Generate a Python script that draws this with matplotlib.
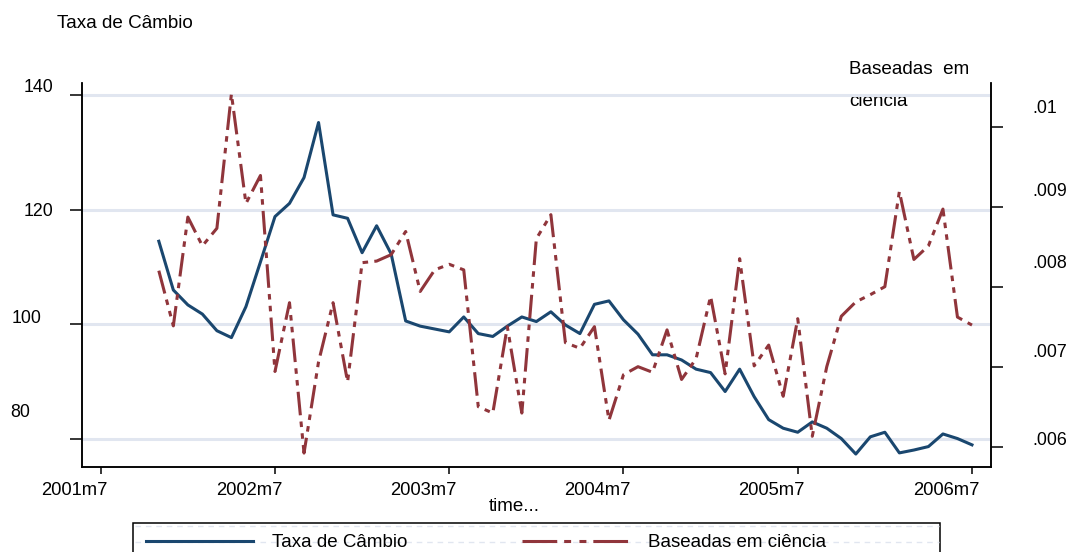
import matplotlib

matplotlib.use("Agg")
import matplotlib.pyplot as plt
import matplotlib.transforms as mtransforms
from matplotlib.lines import Line2D
from matplotlib.patches import Rectangle
import numpy as np
import pandas as pd

plt.rcParams["font.family"] = ["Liberation Sans", "DejaVu Sans"]
plt.rcParams["lines.scale_dashes"] = False

# --- data ---
months = pd.period_range("2001-11", "2006-07", freq="M")
taxa_cambio = [
    114.5, 106.0, 103.4, 101.8, 98.9, 97.7, 103.1, 110.9, 118.8, 121.1,
    125.6, 135.2, 119.1, 118.5, 112.5, 117.2, 112.3, 100.6, 99.7, 99.2,
    98.7, 101.3, 98.4, 97.9, 99.7, 101.3, 100.5, 102.2, 99.9, 98.4,
    103.5, 104.1, 100.8, 98.3, 94.7, 94.7, 93.8, 92.2, 91.6, 88.3,
    92.2, 87.4, 83.4, 81.9, 81.2, 83.0, 81.9, 80.1, 77.4, 80.4,
    81.2, 77.6, 78.1, 78.7, 80.9, 80.1, 79.0,
]
baseadas_ciencia = [
    0.00820, 0.00751, 0.00887, 0.00851, 0.00873, 0.01041, 0.00904, 0.00939, 0.00694, 0.00780,
    0.00592, 0.00706, 0.00780, 0.00681, 0.00830, 0.00832, 0.00840, 0.00869, 0.00794, 0.00821,
    0.00828, 0.00821, 0.00650, 0.00642, 0.00750, 0.00642, 0.00860, 0.00890, 0.00730, 0.00723,
    0.00750, 0.00633, 0.00690, 0.00700, 0.00693, 0.00746, 0.00684, 0.00710, 0.00788, 0.00691,
    0.00835, 0.00701, 0.00727, 0.00663, 0.00760, 0.00613, 0.00700, 0.00763, 0.00781, 0.00790,
    0.00800, 0.00919, 0.00834, 0.00851, 0.00897, 0.00762, 0.00752,
]
x_tick_months = [pd.Period(f"{y}-07", "M") for y in range(2001, 2007)]
left_ticks = [80, 100, 120, 140]
right_ticks = [0.006, 0.007, 0.008, 0.009, 0.01]
right_tick_labels = [".006", ".007", ".008", ".009", ".01"]

# label nudges in pixels (dx, dy downward) -- the original has them off their ticks
left_nudge = [(-23, -29), (-12, -8), (0, 0), (0, -9)]
right_nudge = [(0, -8), (0, -16), (0, -25), (0, -17), (0, -20)]
x_nudge = (-26, 0)

BLUE = "#1a476f"
RED = "#90353b"
GRID = "#e1e6f0"

base = pd.Period("2001-07", "M")


def month_idx(p):
    return (p.year * 12 + p.month) - (base.year * 12 + base.month)


x = np.array([month_idx(p) for p in months])
xt = [month_idx(p) for p in x_tick_months]
xt_labels = [f"{p.year}m{p.month}" for p in x_tick_months]

W, H = 1069, 552
fig = plt.figure(figsize=(W / 100, H / 100), dpi=100)
ax = fig.add_axes([82 / W, 1 - 467 / H, 909 / W, 384 / H])
ax.set_facecolor("none")
ax2 = ax.twinx()

ax.plot(x, taxa_cambio, color=BLUE, lw=2.2, solid_joinstyle="round")
ax2.plot(x, baseadas_ciencia, color=RED, lw=2.2,
         dashes=(17, 4.5, 4, 4.5, 4, 4.5), dash_joinstyle="round")

ax.set_xlim(-1.29, 61.31)
ax.set_ylim(75.14, 142.09)
ax2.set_ylim(0.005746, 0.010546)

ax.set_xticks(xt, xt_labels)
ax.set_yticks(left_ticks, [str(v) for v in left_ticks])
ax2.set_yticks(right_ticks, right_tick_labels)

ax.yaxis.grid(True, color=GRID, lw=2.2)
ax.set_axisbelow(True)

for a in (ax, ax2):
    a.spines["top"].set_visible(False)
    for s in ("left", "right", "bottom"):
        a.spines[s].set_linewidth(1.1)
ax.tick_params(axis="y", length=8.6, width=1.1, pad=12.2, labelsize=12.8)
ax2.tick_params(axis="y", length=8.6, width=1.1, pad=20.9, labelsize=12.8)
ax.tick_params(axis="x", length=5, width=1.1, pad=6, labelsize=13.2)


def nudge(lab, dx, dy):
    lab.set_transform(lab.get_transform() +
                      mtransforms.ScaledTranslation(dx / 100, -dy / 100, fig.dpi_scale_trans))


for lab, (dx, dy) in zip(ax.get_yticklabels(), left_nudge):
    nudge(lab, dx, dy)
for lab, (dx, dy) in zip(ax2.get_yticklabels(), right_nudge):
    nudge(lab, dx, dy)
for lab in ax.get_xticklabels():
    nudge(lab, *x_nudge)

ax.set_xlabel("time...", fontsize=13.5)
ax.xaxis.set_label_coords((514 - 82) / 909, (467 - 498) / 384)

# axis titles
fig.text(57 / W, 1 - 23 / H, "Taxa de Câmbio", fontsize=13.6, va="center", ha="left")
fig.text(849 / W, 1 - 70 / H, "Baseadas  em", fontsize=13.6, va="center", ha="left")
t2 = fig.text(849 / W, 1 - 101 / H, "ciência", fontsize=13.6, va="center", ha="left")
t2.set_clip_box(mtransforms.TransformedBbox(
    mtransforms.Bbox([[0, 0], [1, 1 - 96.5 / H]]), fig.transFigure))
t2.set_clip_on(True)

# legend (box drawn separately, it runs off the bottom edge)
fig.add_artist(Rectangle((133 / W, 1 - 566 / H), 807 / W, 43 / H,
                         transform=fig.transFigure, fill=False, ec="black", lw=1.1))
for yy in (526, 542):
    fig.add_artist(Line2D([135 / W, 939 / W], [1 - yy / H, 1 - yy / H],
                          transform=fig.transFigure, color=GRID, lw=1.0,
                          dashes=(4, 3.5), zorder=1))
handles = [
    Line2D([], [], color=BLUE, lw=2.2),
    Line2D([], [], color=RED, lw=2.2, dashes=(25, 5, 5, 6, 5, 5)),
]
fs_px = 13.5 * 100 / 72
leg = fig.legend(handles, ["Taxa de Câmbio", "Baseadas em ciência"],
                 loc="upper left", bbox_to_anchor=(146 / W, 1 - 534 / H),
                 bbox_transform=fig.transFigure, ncol=2, frameon=False,
                 fontsize=13.5, borderpad=0, borderaxespad=0,
                 handlelength=107 / fs_px, handletextpad=19 / fs_px,
                 columnspacing=115 / fs_px)

fig.savefig("out.png", dpi=100)
